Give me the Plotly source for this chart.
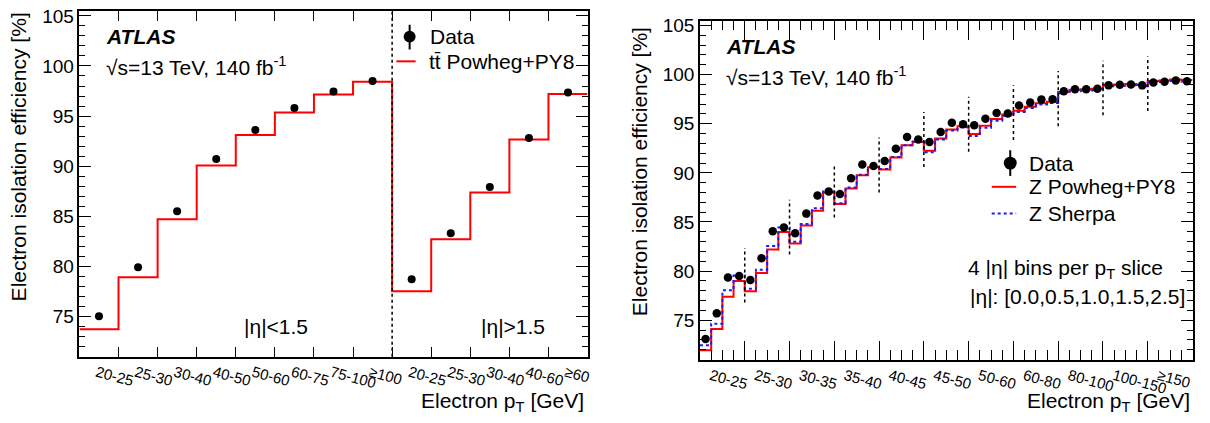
import plotly.graph_objects as go

W, H = 1210, 423
FONT = "Liberation Sans, Arial, sans-serif"

# ---------------- Left panel data (ttbar) ----------------
left_labels = ["20-25", "25-30", "30-40", "40-50", "50-60", "60-75", "75-100", "≥100",
               "20-25", "25-30", "30-40", "40-60", "≥60"]
left_data = [75.0, 79.9, 85.5, 90.7, 93.6, 95.8, 97.45, 98.5,
             78.7, 83.3, 87.9, 92.8, 97.35]
left_powheg = [73.7, 78.9, 84.7, 90.05, 93.1, 95.35, 97.15, 98.42,
               77.5, 82.7, 87.35, 92.65, 97.2]
left_eta_split = 8  # bin edge between |eta|<1.5 and |eta|>1.5

# ---------------- Right panel data (Z) ----------------
right_slice_labels = ["20-25", "25-30", "30-35", "35-40", "40-45", "45-50",
                      "50-60", "60-80", "80-100", "100-150", "≥150"]
eta_bins_per_slice = 4
right_data = [73.1, 75.7, 79.35, 79.5, 79.1, 81.3, 84.05, 84.45, 83.85, 85.85, 87.7,
              88.1, 87.85, 89.45, 90.85, 90.7, 91.2, 92.45, 93.65, 93.4, 93.15, 94.15,
              95.1, 94.95, 94.85, 95.5, 96.1, 96.05, 96.85, 97.15, 97.45, 97.5,
              98.3, 98.5, 98.5, 98.55, 98.9, 98.97, 99.0, 98.9, 99.2, 99.27, 99.4, 99.33]
right_powheg = [71.95, 74.1, 77.4, 79.0, 77.95, 79.8, 82.2, 83.97, 82.8, 84.63, 86.15,
                88.0, 86.83, 88.4, 89.75, 90.57, 90.35, 91.55, 92.8, 93.15, 92.25, 93.5,
                94.4, 94.75, 93.95, 94.8, 95.47, 95.93, 96.33, 96.73, 97.07, 97.23,
                98.23, 98.45, 98.5, 98.55, 98.95, 99.0, 99.05, 98.95, 99.35, 99.4, 99.5, 99.45]
right_sherpa = [72.45, 74.65, 78.05, 79.55, 78.2, 80.15, 82.55, 84.45, 83.0, 84.8, 86.4,
                88.1, 86.9, 88.5, 89.8, 90.6, 90.4, 91.6, 92.8, 93.2, 92.1, 93.4,
                94.3, 94.65, 93.75, 94.6, 95.3, 95.8, 96.2, 96.6, 96.95, 97.1,
                98.1, 98.3, 98.35, 98.4, 98.8, 98.85, 98.9, 98.8, 99.2, 99.25, 99.35, 99.3]
# vertical extent of the dashed slice separators (lower, upper)
sep_low = [76.8, 81.7, 85.45, 88.0, 90.6, 92.15, 93.35, 94.75, 95.85, 96.3]
sep_high = [82.35, 87.25, 90.95, 93.6, 96.2, 97.75, 98.9, 100.35, 101.4, 101.85]

Y_RANGE = [70.95, 105.5]


def px(x):
    return x / W


def py(y):
    return 1 - y / H


fig = go.Figure()

# ---- left panel traces ----
nL = len(left_data)
edgesL = list(range(nL + 1))
centersL = [i + 0.5 for i in range(nL)]
fig.add_trace(go.Scatter(x=edgesL, y=left_powheg + [left_powheg[-1]], mode="lines",
                         line=dict(color="#ff0000", width=2, shape="hv"),
                         xaxis="x", yaxis="y", showlegend=False, hoverinfo="skip"))
fig.add_trace(go.Scatter(x=centersL, y=left_data, mode="markers",
                         marker=dict(color="black", size=8),
                         xaxis="x", yaxis="y", showlegend=False))

# ---- right panel traces ----
nR = len(right_data)
edgesR = list(range(nR + 1))
centersR = [i + 0.5 for i in range(nR)]
fig.add_trace(go.Scatter(x=edgesR, y=right_powheg + [right_powheg[-1]], mode="lines",
                         line=dict(color="#ff0000", width=2, shape="hv"),
                         xaxis="x2", yaxis="y2", showlegend=False, hoverinfo="skip"))
fig.add_trace(go.Scatter(x=edgesR, y=right_sherpa + [right_sherpa[-1]], mode="lines",
                         line=dict(color="#1a1aff", width=2, shape="hv", dash="3px,3px"),
                         xaxis="x2", yaxis="y2", showlegend=False, hoverinfo="skip"))
fig.add_trace(go.Scatter(x=centersR, y=right_data, mode="markers",
                         marker=dict(color="black", size=8.5),
                         xaxis="x2", yaxis="y2", showlegend=False))
n_slices = len(right_slice_labels)
sep_x, sep_y = [], []
for k in range(1, n_slices):
    xb = k * eta_bins_per_slice
    sep_x += [xb, xb, None]
    sep_y += [sep_low[k - 1], sep_high[k - 1], None]
fig.add_trace(go.Scatter(x=sep_x, y=sep_y, mode="lines",
                         line=dict(color="black", width=1.5, dash="3px,3px"),
                         xaxis="x4", yaxis="y2", showlegend=False, hoverinfo="skip"))

# ---- axes ----
common_y = dict(range=Y_RANGE, tick0=0, dtick=5, ticks="inside", ticklen=12, tickwidth=1,
                tickcolor="black", showline=True, linecolor="black", linewidth=1.5,
                mirror="ticks", showgrid=False, zeroline=False,
                tickfont=dict(family=FONT, size=19, color="black"),
                minor=dict(dtick=1, tick0=0, ticks="inside", ticklen=6, tickcolor="black",
                           tickwidth=1, showgrid=False))

fig.update_layout(
    width=W, height=H, margin=dict(l=0, r=0, t=0, b=0),
    paper_bgcolor="white", plot_bgcolor="white",
    font=dict(family=FONT, color="black"),
    xaxis=dict(domain=[px(79.7), px(589.5)], anchor="y", range=[0, nL],
               tickmode="array", tickvals=[c - 0.06 for c in centersL], ticktext=left_labels,
               tickangle=15, ticks="inside", ticklen=0, tickwidth=0,
               tickfont=dict(family=FONT, size=15, color="black"),
               showline=True, linecolor="black", linewidth=1.5, mirror="ticks",
               showgrid=False, zeroline=False,
               minor=dict(tickmode="array", tickvals=edgesL[1:-1], ticks="inside",
                          ticklen=10, tickcolor="black", tickwidth=1, showgrid=False)),
    yaxis=dict(domain=[py(356), py(6)], anchor="x", **common_y),
    xaxis2=dict(domain=[px(702.3), px(1196.5)], anchor="y2", range=[0, nR],
                tickmode="array",
                tickvals=[k * eta_bins_per_slice + 2 - 1.05 for k in range(n_slices)],
                ticktext=right_slice_labels,
                tickangle=15, ticks="inside", ticklen=0, tickwidth=0,
                tickfont=dict(family=FONT, size=15, color="black"),
                showline=True, linecolor="black", linewidth=1.5, mirror="ticks",
                showgrid=False, zeroline=False,
                minor=dict(tickmode="array", tickvals=edgesR[1:-1], ticks="inside",
                           ticklen=10, tickcolor="black", tickwidth=1, showgrid=False)),
    xaxis4=dict(domain=[px(702.3), px(1196.5)], anchor="y2", overlaying="x2", range=[0, nR],
                tickmode="array",
                tickvals=[k * eta_bins_per_slice for k in range(1, n_slices)],
                ticks="inside", ticklen=19, tickwidth=1, tickcolor="black",
                showticklabels=False, showline=False, mirror="ticks",
                showgrid=False, zeroline=False),
    yaxis2=dict(domain=[py(359.3), py(15.7)], anchor="x2", **common_y),
)

# ---- shapes: eta split line (left), legend symbols ----
shapes = [
    dict(type="line", xref="x", yref="y domain", x0=left_eta_split, x1=left_eta_split,
         y0=0, y1=1, line=dict(color="black", width=1.5, dash="3px,3px")),
    # left legend
    dict(type="line", xref="paper", yref="paper", x0=px(411), x1=px(411), y0=py(20), y1=py(45),
         line=dict(color="black", width=2)),
    dict(type="circle", xref="paper", yref="paper", x0=px(405), x1=px(417), y0=py(38), y1=py(26),
         fillcolor="black", line=dict(color="black", width=0)),
    dict(type="line", xref="paper", yref="paper", x0=px(397.7), x1=px(417), y0=py(57), y1=py(57),
         line=dict(color="#ff0000", width=2)),
    # right legend
    dict(type="line", xref="paper", yref="paper", x0=px(1013.6), x1=px(1013.6), y0=py(147), y1=py(173),
         line=dict(color="black", width=2)),
    dict(type="circle", xref="paper", yref="paper", x0=px(1007.1), x1=px(1020.1), y0=py(166.5), y1=py(153.5),
         fillcolor="black", line=dict(color="black", width=0)),
    dict(type="line", xref="paper", yref="paper", x0=px(995), x1=px(1019.5), y0=py(184), y1=py(184),
         line=dict(color="#ff0000", width=2)),
    dict(type="line", xref="paper", yref="paper", x0=px(995), x1=px(1019.5), y0=py(211), y1=py(211),
         line=dict(color="#1a1aff", width=2, dash="3px,3px")),
]
fig.update_layout(shapes=shapes)


def ann(text, x, y, size=21, xanchor="left", yanchor="middle", angle=0):
    return dict(text=text, x=px(x), y=py(y), xref="paper", yref="paper",
                xanchor=xanchor, yanchor=yanchor, showarrow=False, textangle=angle,
                font=dict(family=FONT, size=size, color="black"))


annotations = [
    ann("<b><i>ATLAS</i></b>", 104, 32),
    ann("√s=13 TeV, 140 fb<sup>-1</sup>", 104, 62),
    ann("|η|&lt;1.5", 243, 325),
    ann("|η|&gt;1.5", 480.7, 325),
    ann("Data", 429.7, 32),
    ann("tt̄ Powheg+PY8", 428.6, 57),
    ann("Electron isolation efficiency [%]", 19, 5, xanchor="center", yanchor="top", angle=-90),
    ann("Electron p<sub>T</sub> [GeV]", 588, 402, xanchor="right"),
    ann("<b><i>ATLAS</i></b>", 726.5, 42),
    ann("√s=13 TeV, 140 fb<sup>-1</sup>", 726.5, 72),
    ann("Data", 1030.7, 160),
    ann("Z Powheg+PY8", 1030.7, 184),
    ann("Z Sherpa", 1030.7, 211),
    ann("4 |η| bins per p<sub>T</sub> slice", 969.6, 267),
    ann("|η|: [0.0,0.5,1.0,1.5,2.5]", 971.6, 295),
    ann("Electron isolation efficiency [%]", 641, 20, xanchor="center", yanchor="top", angle=-90),
    ann("Electron p<sub>T</sub> [GeV]", 1196, 402, xanchor="right"),
]
fig.update_layout(annotations=annotations)

fig.write_html("out.html", config={"displayModeBar": False},
               post_script="document.body.style.margin='0px';")
